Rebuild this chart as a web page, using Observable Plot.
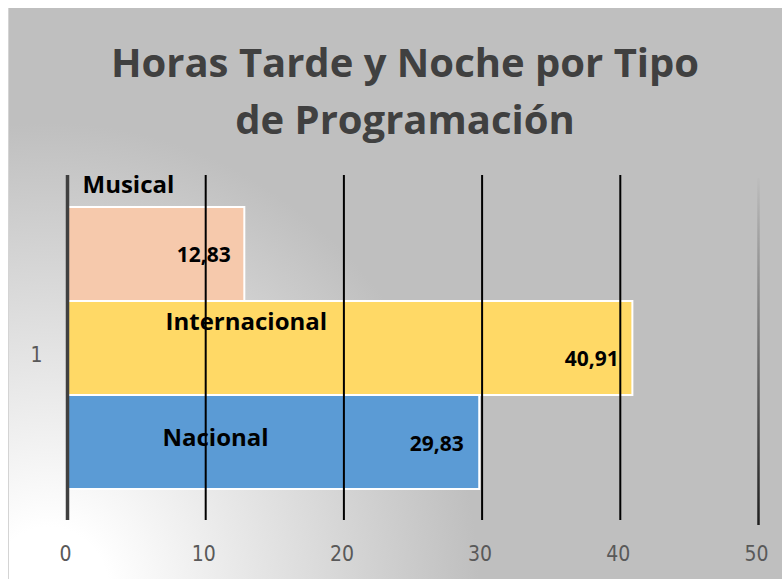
<!DOCTYPE html>
<html>
<head>
<meta charset="utf-8">
<script src="https://cdn.jsdelivr.net/npm/d3@7"></script>
<script src="https://cdn.jsdelivr.net/npm/@observablehq/plot@0.6"></script>
<style>
  html, body { margin: 0; padding: 0; background: #ffffff; width: 782px; height: 579px; overflow: hidden; }
  #bg { position: absolute; left: 8px; top: 8px; width: 773px; height: 571px;
        border-left: 1.5px solid #d4d4d4;
        background: radial-gradient(ellipse 430px 470px at 40px 585px, #ffffff 0%, #ffffff 14%, #bfbfbf 100%); }
  #title { position: absolute; left: 0; top: 33px; width: 810px; text-align: center;
           font-family: "Open Sans", sans-serif; font-weight: 700; font-size: 40px; line-height: 57px; color: #404040; }
  #chart { position: absolute; left: 0; top: 160px; }
</style>
</head>
<body>
<div id="bg"></div>
<div id="title">Horas Tarde y Noche por Tipo<br>de Programación</div>
<div id="chart"></div>
<script>
const series = ["Musical", "Internacional", "Nacional"];
const values = [12.83, 40.91, 29.83];
const valueLabels = ["12,83", "40,91", "29,83"];
const categories = ["1"];
const xTicks = [0, 10, 20, 30, 40, 50];
const colors = ["#F6C9AC", "#FFD966", "#5B9BD5"];

const data = series.map((s, i) => ({serie: s, value: values[i], label: valueLabels[i]}));

const labelFont = "Open Sans, sans-serif";
const tickFont = "Liberation Sans Narrow, DejaVu Sans Condensed, sans-serif";
function seriesName(i, dx, dy) {
  return Plot.text(data.filter((d, j) => j === i), {
    x: () => 0, y: "serie", text: "serie", textAnchor: "start", dx, dy,
    fill: "black", fontWeight: "bold", fontSize: 24, fontFamily: labelFont
  });
}
function valueText(i, dx, dy) {
  return Plot.text(data.filter((d, j) => j === i), {
    x: "value", y: "serie", text: "label", textAnchor: "end", dx, dy,
    fill: "black", fontWeight: "bold", fontSize: 21, fontFamily: labelFont
  });
}

const chart = Plot.plot({
  width: 782, height: 419,
  marginLeft: 67, marginRight: 24, marginTop: 15, marginBottom: 59,
  x: {domain: [0, 50]},
  y: {domain: series, axis: null, paddingInner: 0, paddingOuter: 0.33},
  color: {domain: series, range: colors},
  style: {background: "transparent", fontFamily: tickFont, color: "#595959", overflow: "visible"},
  marks: [
    Plot.barX(data, {x: "value", y: "serie", fill: "serie", stroke: "white", strokeWidth: 2}),
    seriesName(0, 15, -69),
    seriesName(1, 98, -26),
    seriesName(2, 95, -4),
    valueText(0, -14, 1),
    valueText(1, -14, 11),
    valueText(2, -16, 2),
    Plot.ruleX(xTicks.filter(d => d > 0 && d < 50), {stroke: "black", strokeWidth: 2}),
    Plot.ruleX(xTicks.filter(d => d === 0), {stroke: "#404040", strokeWidth: 3.5}),
    Plot.ruleX(xTicks.filter(d => d === 50), {stroke: "#333333", strokeWidth: 2.5, insetTop: 3, insetBottom: -5}),
    Plot.axisX(xTicks, {tickSize: 0, tickPadding: 26, label: null, tickFormat: d => String(d),
      fontSize: 21, fontFamily: tickFont, fill: "#595959", dx: -2}),
    Plot.text(categories, {frameAnchor: "left", text: d => d, dx: -37, dy: 7, fill: "#595959", fontSize: 21, fontFamily: tickFont})
  ]
});

// vertical fade for the far-right line
const svgNS = "http://www.w3.org/2000/svg";
const defs = document.createElementNS(svgNS, "defs");
defs.innerHTML = '<linearGradient id="g50" gradientUnits="userSpaceOnUse" x1="0" y1="18" x2="0" y2="365">' +
  '<stop offset="0" stop-color="#bdbdbd"/><stop offset="0.45" stop-color="#777777"/><stop offset="1" stop-color="#1e1e1e"/></linearGradient>';
chart.insertBefore(defs, chart.firstChild);
const g50 = chart.querySelector('g[stroke="#333333"]');
if (g50) g50.setAttribute("stroke", "url(#g50)");

document.getElementById("chart").appendChild(chart);
</script>
</body>
</html>
